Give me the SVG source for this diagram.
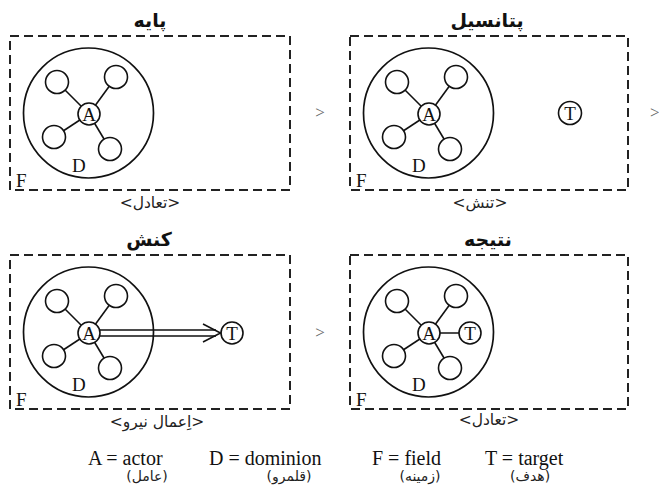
<svg xmlns="http://www.w3.org/2000/svg" width="659" height="488" viewBox="0 0 659 488">
<style>
.field{fill:none;stroke:#222;stroke-width:2;stroke-dasharray:9 5}
.dom{fill:none;stroke:#111;stroke-width:1.7}
.nd{fill:#fff;stroke:#111;stroke-width:1.6}
.ln{stroke:#111;stroke-width:1.6;fill:none}
.lbl{font-family:"Liberation Serif",serif;font-size:19px;fill:#111}
.ttl{font-family:"DejaVu Sans",sans-serif;font-size:19px;font-weight:bold;fill:#111}
.cap{font-family:"DejaVu Sans",sans-serif;font-size:15.5px;fill:#222}
.leg{font-family:"Liberation Serif",serif;font-size:20px;fill:#111}
.legp{font-family:"DejaVu Sans",sans-serif;font-size:14px;fill:#222}
.gt{font-family:"Liberation Serif",serif;font-size:17px;fill:#666}
</style>
<defs>
<g id="sats">
<line class="ln" x1="89" y1="114" x2="57" y2="82"/>
<line class="ln" x1="89" y1="114" x2="116" y2="77"/>
<line class="ln" x1="89" y1="114" x2="54" y2="137"/>
<line class="ln" x1="89" y1="114" x2="110" y2="149"/>
<circle class="nd" cx="57" cy="82" r="11.5"/>
<circle class="nd" cx="116" cy="77" r="11.5"/>
<circle class="nd" cx="54" cy="137" r="11.5"/>
<circle class="nd" cx="110" cy="149" r="11.5"/>
</g>
</defs>

<!-- Panel 1 -->
<g id="panel-base">
<text class="ttl" x="150" y="27" text-anchor="middle">پایه</text>
<rect class="field" x="10" y="36" width="280" height="154"/>
<text class="lbl" x="16" y="187">F</text>
<g id="p1-dominion"><circle class="dom" cx="88.5" cy="113" r="65"/><text class="lbl" x="72" y="172">D</text></g>
<g id="p1-members"><use href="#sats"/></g>
<g id="p1-actor"><circle class="nd" cx="89" cy="114" r="11"/><text class="lbl" x="89" y="120.5" text-anchor="middle">A</text></g>
<text class="cap" x="150" y="208" text-anchor="middle">&lt;تعادل&gt;</text>
</g>

<!-- Panel 2 -->
<g id="panel-potential" transform="translate(340,0)">
<text class="ttl" x="147" y="27" text-anchor="middle">پتانسیل</text>
<rect class="field" x="10" y="36" width="278" height="154"/>
<text class="lbl" x="16" y="187">F</text>
<g id="p2-dominion"><circle class="dom" cx="88.5" cy="113" r="65"/><text class="lbl" x="72" y="172">D</text></g>
<g id="p2-members"><use href="#sats"/></g>
<g id="p2-actor"><circle class="nd" cx="89" cy="114" r="11"/><text class="lbl" x="89" y="120.5" text-anchor="middle">A</text></g>
<g id="p2-target"><circle class="nd" cx="230" cy="113" r="11.5"/><text class="lbl" x="230" y="119.5" text-anchor="middle">T</text></g>
<text class="cap" x="140" y="208" text-anchor="middle">&lt;تنش&gt;</text>
</g>

<!-- Panel 3 -->
<g id="panel-action" transform="translate(0,219)">
<text class="ttl" x="149" y="27" text-anchor="middle">کنش</text>
<rect class="field" x="10" y="36" width="280" height="154"/>
<text class="lbl" x="16" y="187">F</text>
<g id="p3-dominion"><circle class="dom" cx="88.5" cy="113" r="65"/><text class="lbl" x="72" y="172">D</text></g>
<g id="p3-members"><use href="#sats"/></g>
<g id="p3-target"><circle class="nd" cx="232" cy="114" r="11"/><text class="lbl" x="232" y="120.5" text-anchor="middle">T</text></g>
<text class="cap" x="157" y="208" text-anchor="middle">&lt;اِعمال نیرو&gt;</text>
</g>

<!-- Panel 4 -->
<g id="panel-result" transform="translate(340,219)">
<text class="ttl" x="148" y="27" text-anchor="middle">نتیجه</text>
<rect class="field" x="10" y="36" width="278" height="154"/>
<text class="lbl" x="16" y="187">F</text>
<g id="p4-dominion"><circle class="dom" cx="88.5" cy="113" r="65"/><text class="lbl" x="72" y="172">D</text></g>
<g id="p4-members"><use href="#sats"/></g>
<text class="cap" x="149" y="206" text-anchor="middle">&lt;تعادل&gt;</text>
</g>

<!-- Connectors -->
<g id="connectors">
<path class="ln" d="M100 330 H216 M100 336 H216"/>
<path class="ln" d="M203 324 L220.5 333 L203 342"/>
<line class="ln" x1="429" y1="333" x2="470" y2="333"/>
</g>

<!-- actors drawn over connectors -->
<g id="p3-actor"><circle class="nd" cx="89" cy="333" r="11"/><text class="lbl" x="89" y="339.5" text-anchor="middle">A</text></g>
<g id="p4-actor"><circle class="nd" cx="429" cy="333" r="11"/><text class="lbl" x="429" y="339.5" text-anchor="middle">A</text></g>
<g id="p4-target"><circle class="nd" cx="470" cy="333" r="11"/><text class="lbl" x="470" y="339.5" text-anchor="middle">T</text></g>

<!-- stage separators -->
<g id="separators">
<text class="gt" x="320" y="118" text-anchor="middle">&gt;</text>
<text class="gt" x="650" y="118">&gt;</text>
<text class="gt" x="320" y="338" text-anchor="middle">&gt;</text>
</g>

<!-- Legend -->
<g id="legend">
<text class="leg" x="88" y="465">A = actor</text>
<text class="legp" x="147" y="481" text-anchor="middle">(عامل)</text>
<text class="leg" x="209" y="465">D = dominion</text>
<text class="legp" x="289" y="481" text-anchor="middle">(قلمرو)</text>
<text class="leg" x="372" y="465">F = field</text>
<text class="legp" x="420" y="481" text-anchor="middle">(زمینه)</text>
<text class="leg" x="485" y="465">T = target</text>
<text class="legp" x="530" y="481" text-anchor="middle">(هدف)</text>
</g>
</svg>
